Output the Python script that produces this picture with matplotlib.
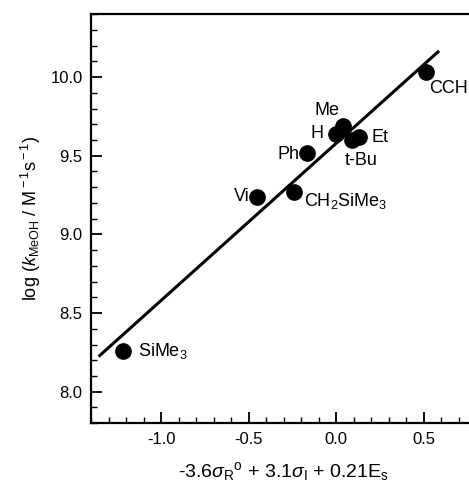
import numpy as np
import matplotlib
matplotlib.use("Agg")
from matplotlib import pyplot as plt
from matplotlib.ticker import MultipleLocator, FormatStrFormatter

plt.rcParams["font.family"] = ["Liberation Sans", "DejaVu Sans"]
plt.rcParams["mathtext.fontset"] = "custom"
plt.rcParams["mathtext.rm"] = "Liberation Sans"
plt.rcParams["mathtext.it"] = "Liberation Sans:italic"

# substituents and read-off values
names = ["SiMe$_3$", "Vi", "CH$_2$SiMe$_3$", "Ph", "H", "Me", "t-Bu", "Et", "CCH"]
x_vals = [-1.22, -0.45, -0.24, -0.17, 0.00, 0.04, 0.09, 0.13, 0.51]
y_vals = [8.26, 9.24, 9.27, 9.52, 9.64, 9.69, 9.60, 9.62, 10.03]

# label offsets in pixels and alignment
offsets = [(15, 0), (-8, 0), (10, -9), (-7, -2), (-13, 0), (-16, 15), (-7, -21), (12, -1), (3, -16)]
aligns = ["left", "right", "left", "right", "right", "center", "left", "left", "left"]

# correlation line
line_x = [-1.35, 0.58]
slope = 1.0
intercept = 9.58

fig = plt.figure(figsize=(4.69, 4.87), dpi=100)
ax = fig.add_axes([0.194, 0.131, 0.822, 0.840])

lx = np.array(line_x)
ax.plot(lx, slope * lx + intercept, color="black", lw=2.2)
ax.plot(x_vals, y_vals, "o", color="black", ms=11, zorder=3)

for name, xv, yv, off, ha in zip(names, x_vals, y_vals, offsets, aligns):
    ax.annotate(name, (xv, yv), xytext=off, textcoords="offset pixels",
                ha=ha, va="center", fontsize=13)

ax.set_xlim(-1.4, 0.8)
ax.set_ylim(7.8, 10.4)
ax.xaxis.set_major_locator(MultipleLocator(0.5))
ax.xaxis.set_minor_locator(MultipleLocator(0.1))
ax.yaxis.set_major_locator(MultipleLocator(0.5))
ax.yaxis.set_minor_locator(MultipleLocator(0.1))
ax.xaxis.set_major_formatter(FormatStrFormatter("%.1f"))
ax.yaxis.set_major_formatter(FormatStrFormatter("%.1f"))
ax.tick_params(which="major", direction="in", length=8, width=1.3, labelsize=12, pad=6)
ax.tick_params(which="minor", direction="in", length=4, width=1.0)
ax.tick_params(top=False, right=False, which="both")
for sp in ax.spines.values():
    sp.set_linewidth(1.6)

ax.set_xlabel(r"-3.6$\sigma_{\rm R}$$^{\rm o}$ + 3.1$\sigma_{\rm I}$ + 0.21E$_{\rm s}$",
              fontsize=14, labelpad=10)
ax.set_ylabel(r"log ($k_{\rm MeOH}$ / M$^{\rm -1}$s$^{\rm -1}$)", fontsize=13, labelpad=5)

fig.savefig("out.png", dpi=100)
